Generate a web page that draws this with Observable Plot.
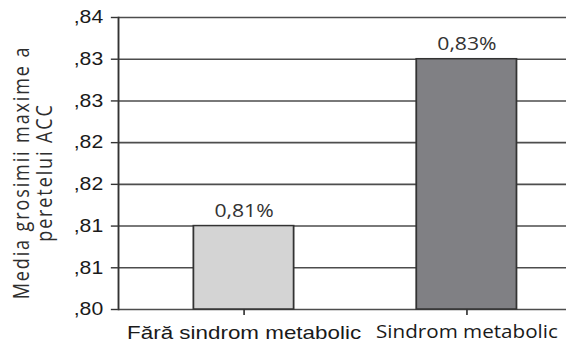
<!DOCTYPE html>
<html>
<head>
<meta charset="utf-8">
<script src="https://cdn.jsdelivr.net/npm/d3@7"></script>
<script src="https://cdn.jsdelivr.net/npm/@observablehq/plot@0.6"></script>
<style>
  html, body { margin: 0; padding: 0; background: #fff; overflow: hidden; }
  #chart { width: 566px; height: 345px; overflow: hidden; }
  /* the chart is drawn on a 480-wide canvas and widened to fill the page */
  #chart svg { display: block; transform: scaleX(1.17917); transform-origin: 0 0; }
  #chart svg text { font-weight: 400; }
</style>
</head>
<body>
<div id="chart"></div>
<script>
// Mean maximum carotid wall thickness by metabolic-syndrome status
const groups = ["Fără sindrom metabolic", "Sindrom metabolic"];
const means = [0.810, 0.830];
const valueLabels = ["0,81%", "0,83%"];
const yDomain = [0.800, 0.835];
const yTicks = [0.800, 0.805, 0.810, 0.815, 0.820, 0.825, 0.830, 0.835];
const yTickLabels = [",80", ",81", ",81", ",82", ",82", ",83", ",83", ",84"];
const yTitle = "Media grosimii maxime a\nperetelui ACC";

// styling
const barFills = ["#d4d4d4", "#808084"];
const groupLabelFonts = ["'Liberation Sans', Arial, sans-serif", "'Open Sans', sans-serif"];
const groupLabelSizes = [19, 17.5];

const rows = groups.map((g, i) => ({group: g, mean: means[i], label: valueLabels[i], fill: barFills[i]}));

const chart = Plot.plot({
  width: 480,
  height: 345,
  marginTop: 17,
  marginBottom: 36,
  marginLeft: 100,
  marginRight: 0,
  style: {background: "#fff", color: "#333"},
  x: {domain: groups, range: [111.5, 489.7], paddingInner: 0.55, paddingOuter: 0.275, axis: null},
  y: {domain: yDomain, axis: null},
  color: {type: "identity"},
  marks: [
    Plot.ruleY(yTicks, {stroke: "#4d4d4d", strokeWidth: 1.6}),
    Plot.barY(rows, {x: "group", y1: yDomain[0], y2: "mean", fill: "fill", stroke: "#333", strokeWidth: 1.5}),
    Plot.text(rows, {
      x: "group", y: "mean", text: "label", dy: -9, lineAnchor: "bottom",
      fontSize: 18, fontFamily: "'Open Sans', sans-serif", fill: "#333"
    }),
    Plot.frame({anchor: "left", stroke: "#333", strokeWidth: 1.6}),
    Plot.axisY(yTicks, {
      tickSize: 6, tickPadding: 7, label: null,
      tickFormat: d => yTickLabels[yTicks.indexOf(d)],
      fontSize: 18, fontFamily: "'Liberation Sans', Arial, sans-serif", fill: "#1a1a1a"
    }),
    Plot.axisX({
      tickSize: 6, tickPadding: 10.5, label: null,
      fontSize: 19, fill: "#1a1a1a"
    }),
    Plot.text([yTitle], {
      frameAnchor: "left", text: d => d, rotate: -90, lineAnchor: "top", textAnchor: "middle",
      dx: -90, dy: 9, lineHeight: 1.08, fontSize: 18,
      fontFamily: "'Open Sans', sans-serif", fill: "#2e2e2e"
    })
  ]
});

const svg = d3.select(chart);

// tick marks a little heavier than the default hairline
svg.selectAll('g[aria-label="y-axis tick"], g[aria-label="x-axis tick"]')
  .attr("stroke-width", 1.4);

// labels are plain filled text
svg.selectAll("text").attr("stroke", "none");

// each group label keeps its own typeface
svg.selectAll('g[aria-label="x-axis tick label"] text')
  .style("font-family", (d, i) => groupLabelFonts[i])
  .style("font-size", (d, i) => groupLabelSizes[i] + "px");

// the rotated axis title is set with open tracking
svg.selectAll("text")
  .filter(function() { return (this.getAttribute("transform") || "").includes("rotate(-90)"); })
  .style("letter-spacing", "1.9px");

document.getElementById("chart").appendChild(chart);
</script>
</body>
</html>
